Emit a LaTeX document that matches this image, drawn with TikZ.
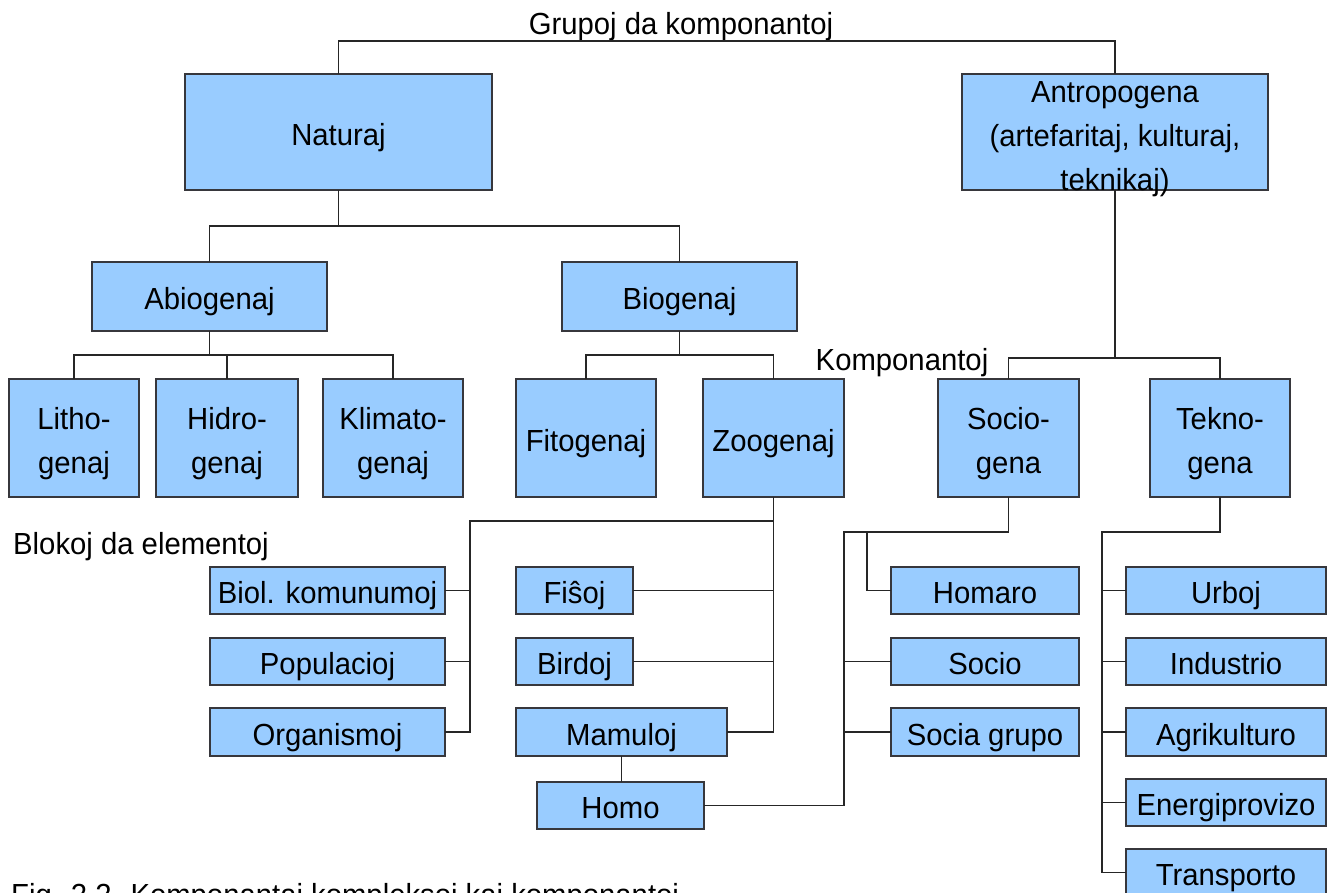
\documentclass[tikz,border=0pt]{standalone}
\usepackage{fontspec}
\setmainfont{Liberation Sans}[FakeStretch=0.96]
\definecolor{boxblue}{RGB}{153,204,255}
\definecolor{edge}{RGB}{55,55,60}
\begin{document}
\begin{tikzpicture}[x=1pt,y=-1pt,
  bx/.style={draw=edge, fill=boxblue, line width=1.8pt, inner sep=0pt, outer sep=0pt,
    align=center, anchor=north west, font=\fontsize{30.5}{44}\selectfont},
  ln/.style={draw=black!85, line width=1.6pt},
  lbl/.style={font=\fontsize{30.5}{36}\selectfont, inner sep=0pt}]
% page
\fill[white] (0,0) rectangle (1330,892);
\useasboundingbox (0,0) rectangle (1330,892);
% box: name, left, top, right, bottom, text
% (struts on the first and last line give every box the same text height and depth)
\newcommand\bx[6]{\node[bx, minimum width={(#4-#2)*1pt}, minimum height={(#5-#3)*1pt}] (#1) at (#2,#3)
  {\rule{0pt}{33pt}#6\rule[-7pt]{0pt}{7pt}};}

% free labels
\node[lbl, anchor=base] (grp) at (681,34) {Grupoj da komponantoj};
\node[lbl, anchor=base] (kom) at (902,370) {Komponantoj};
\node[lbl, anchor=base west] (blk) at (13,554) {Blokoj da elementoj};
\node[lbl, anchor=base west] (cap) at (11,905) {Fig. 2.2. Komponantaj kompleksoj kaj komponantoj};

% junction points
\coordinate (top) at (700,41);
\coordinate (n1) at (338.5,226);
\coordinate (a1) at (209.5,355);
\coordinate (b1) at (679.5,355);
\coordinate (c1) at (1115,358);
\coordinate (z1) at (773.5,521);
\coordinate (zl) at (470,521);
\coordinate (s1) at (1008.5,532);
\coordinate (s2) at (867,532);
\coordinate (sl) at (844,532);
\coordinate (t1) at (1220,532);
\coordinate (tl) at (1102,532);

\bx{nat}{185}{74}{492}{190}{Naturaj}
% three lines that run past the lower edge of the box
\node[bx, minimum width=306pt, minimum height=116pt] (ant) at (962,74)
  {\rule{0pt}{28pt}Antropogena\\(artefaritaj, kulturaj,\\\smash{teknikaj)}};
\bx{abio}{92}{262}{327}{331}{Abiogenaj}
\bx{bio}{562}{262}{797}{331}{Biogenaj}
\bx{lit}{9}{379}{139}{497}{Litho-\\genaj}
\bx{hid}{156}{379}{298}{497}{Hidro-\\genaj}
\bx{kli}{323}{379}{463}{497}{Klimato-\\genaj}
\bx{fit}{516}{379}{656}{497}{Fitogenaj}
\bx{zoo}{703}{379}{844}{497}{Zoogenaj}
\bx{soc}{938}{379}{1079}{497}{Socio-\\gena}
\bx{tek}{1150}{379}{1290}{497}{Tekno-\\gena}
\bx{biol}{210}{567}{445}{614}{Biol. komunumoj}
\bx{pop}{210}{638}{445}{685}{Populacioj}
\bx{org}{210}{708}{445}{756}{Organismoj}
\bx{fis}{516}{567}{633}{614}{Fiŝoj}
\bx{bir}{516}{638}{633}{685}{Birdoj}
\bx{mam}{516}{708}{727}{756}{Mamuloj}
\bx{hom}{537}{782}{704}{829}{Homo}
\bx{homa}{891}{567}{1079}{614}{Homaro}
\bx{socio}{891}{638}{1079}{685}{Socio}
\bx{sgr}{891}{708}{1079}{756}{Socia grupo}
\bx{urb}{1126}{567}{1326}{614}{Urboj}
\bx{ind}{1126}{638}{1326}{685}{Industrio}
\bx{agr}{1126}{708}{1326}{756}{Agrikulturo}
\bx{ene}{1126}{779}{1326}{826}{Energiprovizo}
\bx{tra}{1126}{849}{1326}{896}{Transporto}

\begin{scope}[ln]
% top level
\draw (nat.north) |- (top) -| (ant.north);
% Naturaj branch
\draw (nat.south) -- (n1);
\draw (abio.north) |- (n1) -| (bio.north);
\draw (abio.south) -- (a1);
\draw (lit.north) |- (a1) -| (kli.north);
\draw (hid.north) -- (hid.north |- a1);
\draw (bio.south) -- (b1);
\draw (fit.north) |- (b1) -| (zoo.north);
% Antropogena branch
\draw (ant.south) -- (c1);
\draw (soc.north) |- (c1) -| (tek.north);
% Zoogenaj blocks
\draw (zoo.south) -- (z1) -- (zl) -- (org.east -| zl) -- (org.east);
\draw (biol.east) -- (biol.east -| zl);
\draw (pop.east) -- (pop.east -| zl);
\draw (z1) -- (mam.east -| z1) -- (mam.east);
\draw (fis.east) -- (fis.east -| z1);
\draw (bir.east) -- (bir.east -| z1);
\draw (mam.south) -- (mam.south |- hom.north);
% Sociogena blocks
\draw (soc.south) -- (s1) -- (sl) -- (hom.east -| sl) -- (hom.east);
\draw (s2) |- (homa.west);
\draw (socio.west) -- (socio.west -| sl);
\draw (sgr.west) -- (sgr.west -| sl);
% Teknogena blocks
\draw (tek.south) -- (t1) -- (tl) -- (tra.west -| tl) -- (tra.west);
\draw (urb.west) -- (urb.west -| tl);
\draw (ind.west) -- (ind.west -| tl);
\draw (agr.west) -- (agr.west -| tl);
\draw (ene.west) -- (ene.west -| tl);
\end{scope}
\end{tikzpicture}
\end{document}
